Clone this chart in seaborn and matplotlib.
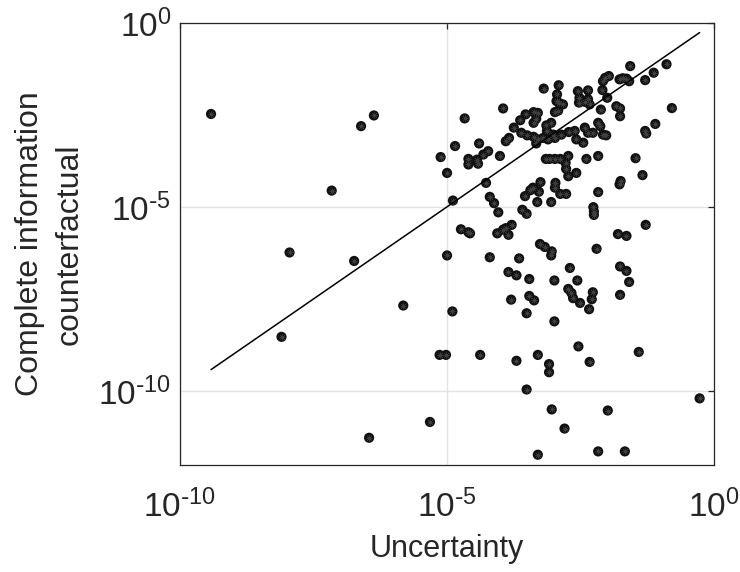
import numpy as np
import pandas as pd
import matplotlib
matplotlib.use("Agg")
import matplotlib.pyplot as plt
import matplotlib.ticker as mticker
import seaborn as sns

# log10 of the plotted values
# upper-right block (uncertainty > 1e-5.2, counterfactual > 1e-5)
log_unc_upper = [
    -1.56, -0.88, -1.12, -1.28, -0.78, -1.09, -1.28, -1.26, -1.46, -1.33,
    -1.74, -1.76, -2.16, -2.07, -2.03, -1.96, -2.08, -1.99, -1.76, -1.70,
    -1.63, -1.58, -1.82, -1.75, -1.75, -2.11, -2.54, -2.51, -2.52, -2.35,
    -2.35, -2.41, -2.32, -3.18, -2.90, -2.93, -2.94, -2.89, -2.82, -2.97,
    -2.91, -3.94, -4.66, -4.84, -4.39, -5.11, -4.99, -4.59, -4.59, -4.43,
    -4.41, -4.31, -4.22, -4.00, -3.89, -3.83, -3.74, -3.62, -3.52, -3.37,
    -3.29, -3.32, -3.37, -3.60, -3.49, -3.37, -3.29, -3.32, -3.13, -3.04,
    -3.12, -3.00, -3.19, -3.10, -2.97, -2.85, -2.71, -2.60, -2.57, -2.44,
    -2.41, -2.35, -2.26, -2.16, -2.12, -2.07, -2.01, -3.14, -3.07, -2.97,
    -2.87, -2.72, -2.77, -2.76, -2.72, -2.57, -2.38, -2.16, -4.26, -4.88,
    -4.19, -4.11, -3.24, -3.38, -3.43, -3.27, -3.53, -3.30, -3.04, -2.96,
    -2.97, -2.87, -2.76,
]
log_cif_upper = [
    -1.17, -1.12, -1.35, -1.55, -2.31, -2.74, -2.93, -3.00, -3.67, -4.13,
    -4.29, -4.38, -4.59, -1.58, -1.49, -1.44, -1.82, -2.03, -1.53, -1.50,
    -1.51, -1.58, -2.26, -2.32, -2.53, -2.35, -1.85, -2.03, -2.16, -1.83,
    -2.07, -2.14, -2.21, -1.78, -1.69, -1.94, -2.12, -2.17, -2.21, -2.42,
    -2.38, -2.32, -2.59, -3.34, -3.27, -3.64, -4.07, -3.69, -3.84, -3.71,
    -3.82, -3.57, -3.48, -3.61, -3.21, -3.12, -2.84, -2.64, -2.48, -2.42,
    -2.44, -2.60, -2.71, -2.98, -3.05, -3.09, -3.16, -3.27, -2.78, -2.71,
    -2.93, -3.03, -3.12, -3.16, -3.12, -3.03, -2.96, -2.93, -3.16, -3.25,
    -2.84, -2.98, -2.98, -2.71, -2.80, -3.03, -3.05, -3.69, -3.69, -3.69,
    -3.69, -3.61, -3.80, -3.96, -4.16, -4.07, -3.69, -3.61, -4.34, -4.82,
    -4.72, -4.89, -4.32, -4.47, -4.54, -4.58, -4.70, -4.86, -4.86, -4.34,
    -4.47, -4.64, -4.64,
]

# lower-right block (counterfactual below 1e-5)
log_unc_lower = [
    -2.25, -2.24, -2.24, -4.03, -3.58, -3.50, -1.27, -4.73, -4.59, -4.56,
    -4.05, -3.94, -3.89, -3.84, -3.78, -1.79, -1.63, -2.19, -3.25, -3.16,
    -3.03, -3.04, -4.99, -4.19, -3.64, -3.84, -3.69, -3.45, -2.98, -2.69,
    -2.55, -2.72, -2.66, -2.63, -2.50, -2.26, -2.28, -2.33, -1.75, -1.63,
    -1.58, -1.75, -3.79, -3.45, -3.36, -3.50, -4.89, -2.98, -5.13, -5.01,
    -4.37, -3.69, -3.29, -3.08, -3.08, -2.53, -2.32, -1.40, -3.50, -5.31,
    -3.03, -1.98, -2.79, -3.29, -2.16, -1.66, -0.26,
]
log_cif_lower = [
    -5.00, -5.12, -5.21, -5.14, -5.07, -5.18, -5.48, -5.60, -5.68, -5.71,
    -5.71, -5.61, -5.57, -5.75, -5.48, -5.73, -5.78, -6.13, -6.00, -6.08,
    -6.20, -6.31, -6.31, -6.36, -6.39, -6.76, -6.85, -6.95, -6.99, -6.65,
    -6.99, -7.22, -7.33, -7.47, -7.60, -7.31, -7.50, -7.77, -6.61, -6.73,
    -7.03, -7.38, -7.51, -7.41, -7.53, -7.88, -7.83, -8.10, -9.01, -9.01,
    -9.01, -9.17, -9.01, -9.26, -9.48, -8.78, -9.20, -8.93, -9.95, -10.83,
    -10.49, -10.52, -11.01, -11.72, -11.63, -11.63, -10.19,
]

# left half (uncertainty below 1e-5.3)
log_unc_left = [-9.41, -6.60, -6.36, -7.15, -7.94, -6.73, -5.81, -8.09, -6.45]
log_cif_left = [-2.47, -2.80, -2.51, -4.55, -6.23, -6.46, -7.67, -8.52, -11.26]

x_ticks = [1e-10, 1e-5, 1e0]
y_ticks = [1e-10, 1e-5, 1e0]

df = pd.DataFrame({
    "Uncertainty": 10.0 ** np.array(log_unc_upper + log_unc_lower + log_unc_left),
    "Complete information counterfactual": 10.0 ** np.array(log_cif_upper + log_cif_lower + log_cif_left),
})

sns.set_style("white")
plt.rcParams["font.family"] = ["Liberation Sans", "DejaVu Sans"]
plt.rcParams["axes.unicode_minus"] = False

fig = plt.figure(figsize=(7.4, 5.72), dpi=100)
ax = fig.add_axes([0.2426, 0.187, 0.7216, 0.7728])

sns.scatterplot(data=df, x="Uncertainty", y="Complete information counterfactual",
                ax=ax, color="#111111", s=54, edgecolor="none", linewidth=0, zorder=3)
# faint asterisk inside each dot, like the original markers
ax.scatter(df["Uncertainty"], df["Complete information counterfactual"],
           marker=(8, 2, 0), s=20, color="#3e3e3e", linewidths=0.3, zorder=4)

# 45-degree reference line across the data range
lo = df["Uncertainty"].min()
hi = df["Uncertainty"].max()
ax.plot([lo, hi], [lo, hi], color="black", linewidth=1.1, zorder=5)

ax.set_xscale("log")
ax.set_yscale("log")
ax.set_xlim(1e-10, 1e0)
ax.set_ylim(1e-12, 1e0)
ax.xaxis.set_major_locator(mticker.FixedLocator(x_ticks))
ax.yaxis.set_major_locator(mticker.FixedLocator(y_ticks))
ax.xaxis.set_minor_locator(mticker.NullLocator())
ax.yaxis.set_minor_locator(mticker.NullLocator())


def pow10(v, pos):
    e = int(round(np.log10(v)))
    if e < 0:
        return r"$\mathregular{10^{\text{-}%d}}$" % (-e)
    return r"$\mathregular{10^{%d}}$" % e


ax.xaxis.set_major_formatter(mticker.FuncFormatter(pow10))
ax.yaxis.set_major_formatter(mticker.FuncFormatter(pow10))

ax.grid(True, color="#e3e3e3", linewidth=1.0, zorder=0)
ax.set_axisbelow(True)
for sp in ax.spines.values():
    sp.set_visible(True)
    sp.set_color("#262626")
    sp.set_linewidth(0.9)
ax.tick_params(which="major", direction="in", length=4, width=0.9, color="#262626",
               top=True, right=True, labelsize=24, labelcolor="#262626")
ax.tick_params(axis="x", pad=18)
ax.tick_params(axis="y", pad=6)

ax.set_xlabel("Uncertainty", fontsize=22, color="#262626", labelpad=7)
ax.set_ylabel("Complete information\ncounterfactual", fontsize=23, color="#262626",
              labelpad=10, linespacing=1.42)

fig.savefig("out.png", dpi=100)
